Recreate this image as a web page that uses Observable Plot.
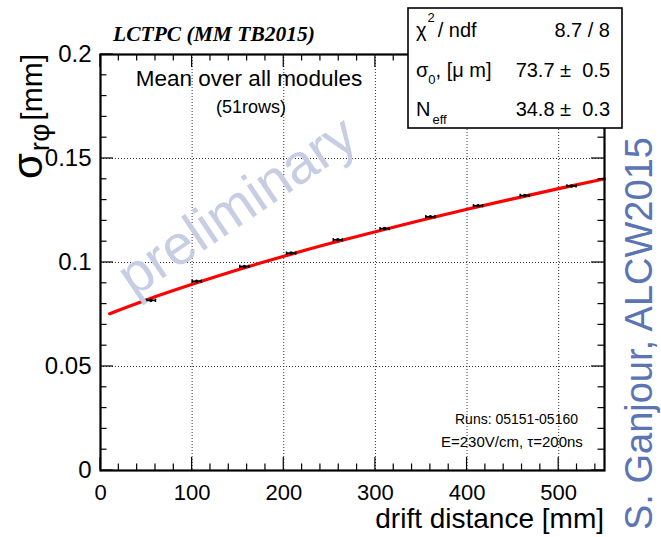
<!DOCTYPE html>
<html>
<head>
<meta charset="utf-8">
<script src="https://cdn.jsdelivr.net/npm/d3@7"></script>
<script src="https://cdn.jsdelivr.net/npm/@observablehq/plot@0.6"></script>
<style>
  html, body { margin: 0; padding: 0; background: white; }
  svg { display: block; }
</style>
</head>
<body>
<script>
// ---- data ----
const driftDistance = [55, 105, 157, 208, 259, 310, 360, 412, 463, 514];
const sigmaRphi = [0.0818, 0.0910, 0.0981, 0.1045, 0.1109, 0.1163, 0.1220, 0.1273, 0.1322, 0.1368];
const driftErr = [5, 5, 5, 5, 5, 5, 5, 5, 5, 5];
const sigmaErr = [0.0008, 0.0008, 0.0008, 0.0008, 0.0008, 0.0008, 0.0008, 0.0008, 0.0008, 0.0008];

// fit curve samples
const fitX = [10, 50, 100, 150, 200, 250, 300, 350, 400, 450, 500, 550];
const fitY = [0.0754, 0.0820, 0.0895, 0.0965, 0.1030, 0.1091, 0.1148, 0.1203, 0.1256, 0.1306, 0.1355, 0.1402];

const xTicks = [0, 100, 200, 300, 400, 500];
const xTickLabels = ["0", "100", "200", "300", "400", "500"];
const xMinorTicks = d3.range(0, 551, 20);
const yTicks = [0, 0.05, 0.1, 0.15, 0.2];
const yTickLabels = ["0", "0.05", "0.1", "0.15", "0.2"];
const yMinorTicks = d3.range(0, 0.2001, 0.01);
const xGrid = [100, 200, 300, 400, 500];
const yGrid = [0.05, 0.1, 0.15];

const statsValues = ["8.7 / 8", "73.7 \u00b1  0.5", "34.8 \u00b1  0.3"];

const points = driftDistance.map((x, i) => ({x, y: sigmaRphi[i], ex: driftErr[i], ey: sigmaErr[i]}));
const fit = fitX.map((x, i) => ({x, y: fitY[i]}));

const plot = Plot.plot({
  width: 661,
  height: 537,
  marginLeft: 100,
  marginRight: 57,
  marginTop: 54,
  marginBottom: 67,
  style: {fontFamily: "'Liberation Sans', Arial, Helvetica, sans-serif", fontSize: "22px", background: "white", color: "black"},
  x: {domain: [0, 550]},
  y: {domain: [0, 0.2]},
  marks: [
    Plot.ruleX(xGrid, {stroke: "#333", strokeWidth: 1, strokeDasharray: "1,2"}),
    Plot.ruleY(yGrid, {stroke: "#333", strokeWidth: 1, strokeDasharray: "1,2"}),
    Plot.line(fit, {x: "x", y: "y", stroke: "#ff0000", strokeWidth: 3.2, curve: "natural"}),
    Plot.link(points, {x1: d => d.x - d.ex, x2: d => d.x + d.ex, y1: "y", y2: "y", stroke: "black", strokeWidth: 1.6}),
    Plot.link(points, {x1: d => d.x - d.ex, x2: d => d.x - d.ex, y1: d => d.y - d.ey, y2: d => d.y + d.ey, stroke: "black", strokeWidth: 1.5}),
    Plot.link(points, {x1: d => d.x + d.ex, x2: d => d.x + d.ex, y1: d => d.y - d.ey, y2: d => d.y + d.ey, stroke: "black", strokeWidth: 1.5}),
    Plot.dot(points, {x: "x", y: "y", r: 1.8, fill: "black"}),
    Plot.axisX({ticks: xTicks, tickFormat: d => xTickLabels[xTicks.indexOf(d)], tickSize: 0, tickPadding: 14, label: null, fontSize: 22}),
    Plot.axisY({ticks: yTicks, tickFormat: d => yTickLabels[yTicks.indexOf(d)], tickSize: 0, tickPadding: 9, label: null, fontSize: 24}),
    Plot.frame({stroke: "black", strokeWidth: 2.2})
  ]
});

document.body.appendChild(plot);

const svg = d3.select(plot);
const sx = plot.scale("x");
const sy = plot.scale("y");
const X = v => sx.apply(v);
const Y = v => sy.apply(v);
const x0 = X(0), x1 = X(550), y0 = Y(0), y1 = Y(0.2);

// inner ticks (ROOT style) on all four sides
const tg = svg.append("g").attr("stroke", "black").attr("stroke-width", 1.2);
xMinorTicks.forEach(v => {
  const major = xTicks.includes(v);
  const len = major ? 13 : 6.5;
  tg.append("line").attr("x1", X(v)).attr("x2", X(v)).attr("y1", y0).attr("y2", y0 - len);
  tg.append("line").attr("x1", X(v)).attr("x2", X(v)).attr("y1", y1).attr("y2", y1 + len);
});
yMinorTicks.forEach((v, i) => {
  const major = i % 5 === 0;
  const len = major ? 13 : 6.5;
  tg.append("line").attr("y1", Y(v)).attr("y2", Y(v)).attr("x1", x0).attr("x2", x0 + len);
  tg.append("line").attr("y1", Y(v)).attr("y2", Y(v)).attr("x1", x1).attr("x2", x1 - len);
});

const sans = "'Liberation Sans', Arial, Helvetica, sans-serif";
const ann = svg.append("g").attr("text-anchor", "start").attr("font-family", sans).attr("fill", "black");

// watermark "preliminary"
ann.append("text")
  .attr("transform", "translate(239,209) rotate(-34)")
  .attr("text-anchor", "middle")
  .attr("dominant-baseline", "middle")
  .attr("font-size", 56)
  .attr("fill", "#c7cde3")
  .text("preliminary");

// title
ann.append("text")
  .attr("x", 214).attr("y", 41)
  .attr("text-anchor", "middle")
  .attr("font-family", "'Liberation Serif', 'Times New Roman', serif")
  .attr("font-weight", "bold").attr("font-style", "italic")
  .attr("font-size", 21.5)
  .text("LCTPC (MM TB2015)");

// in-plot annotations
ann.append("text").attr("x", 249).attr("y", 86).attr("text-anchor", "middle")
  .attr("font-size", 22.5).text("Mean over all modules");
ann.append("text").attr("x", 251).attr("y", 113).attr("text-anchor", "middle")
  .attr("font-size", 18).text("(51rows)");
ann.append("text").attr("x", 578).attr("y", 424).attr("text-anchor", "end")
  .attr("font-size", 14).text("Runs: 05151-05160");
ann.append("text").attr("x", 441).attr("y", 447).attr("text-anchor", "start")
  .attr("font-size", 15).text("E=230V/cm, \u03c4=200ns");

// axis titles
ann.append("text").attr("x", x1).attr("y", 528).attr("text-anchor", "end")
  .attr("font-size", 28).text("drift distance [mm]");

const yt = ann.append("text")
  .attr("transform", "translate(42,54) rotate(-90)")
  .attr("text-anchor", "end")
  .attr("font-size", 30);
yt.append("tspan").attr("font-size", 42).text("\u03c3");
yt.append("tspan").attr("font-size", 28).attr("dy", 7).attr("dx", 2).text("r\u03c6");
yt.append("tspan").attr("dy", -7).attr("dx", 3).text("[mm]");

// stats box
const box = ann.append("g");
box.append("rect").attr("x", 408).attr("y", 8).attr("width", 214).attr("height", 120)
  .attr("fill", "white").attr("stroke", "black").attr("stroke-width", 1.6);
const rowY = [37, 77, 116];
const lab = box.append("g").attr("font-size", 20).attr("text-anchor", "start");
// chi2 / ndf
const l0 = lab.append("text").attr("x", 416).attr("y", rowY[0]);
l0.append("tspan").text("\u03c7");
l0.append("tspan").attr("font-size", 13).attr("dy", -15).attr("dx", 1).text("2");
l0.append("tspan").attr("dy", 15).attr("dx", 3).text("/ ndf");
// sigma0
const l1 = lab.append("text").attr("x", 416).attr("y", rowY[1]);
l1.append("tspan").text("\u03c3");
l1.append("tspan").attr("font-size", 13).attr("dy", 7).text("0");
l1.append("tspan").attr("dy", -7).text(", [\u03bc m]");
// Neff
const l2 = lab.append("text").attr("x", 416).attr("y", rowY[2]);
l2.append("tspan").text("N");
l2.append("tspan").attr("font-size", 13).attr("dy", 8).attr("dx", 2).text("eff");
statsValues.forEach((v, i) => {
  lab.append("text").attr("x", 610).attr("y", rowY[i]).attr("text-anchor", "end")
    .style("white-space", "pre").text(v);
});

// side credit
ann.append("text")
  .attr("transform", "translate(652,530) rotate(-90)")
  .attr("text-anchor", "start")
  .attr("font-size", 38)
  .attr("fill", "#5b74b4")
  .text("S. Ganjour, ALCW2015");
</script>
</body>
</html>
